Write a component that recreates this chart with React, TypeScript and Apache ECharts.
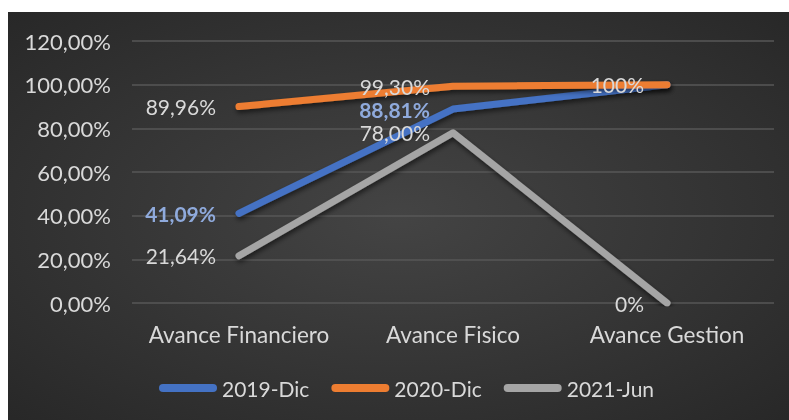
import React, { useEffect, useRef } from "react";
import * as echarts from "echarts";

const categories = ["Avance Financiero", "Avance Fisico", "Avance Gestion"];
const seriesNames = ["2019-Dic", "2020-Dic", "2021-Jun"];
const values2019 = [41.09, 88.81, 100];
const values2020 = [89.96, 99.3, 100];
const values2021 = [21.64, 78.0, 0];
const labelDecimals = [2, 2, 0];
const show2019 = [true, true, false];
const show2020 = [true, true, true];
const show2021 = [true, true, true];
const yMin = 0;
const yMax = 120;
const yInterval = 20;

const colors = ["#4472C4", "#ED7D31", "#A5A5A5"];
const FONT = "Lato, 'Noto Sans', sans-serif";

const fmtPct = (v: number, d: number) => v.toFixed(d).replace(".", ",") + "%";

function makeSeries(name: string, vals: number[], shows: boolean[], color: string, labelColor: string, bold: boolean) {
  return {
    name,
    type: "line",
    data: vals.map((v, i) => ({
      value: v,
      label: { show: shows[i] },
    })),
    symbol: "circle",
    symbolSize: 0,
    showSymbol: true,
    lineStyle: {
      color,
      width: 7,
      cap: "round",
      join: "round",
      shadowColor: "rgba(0,0,0,0.55)",
      shadowBlur: 5,
      shadowOffsetX: 1,
      shadowOffsetY: 3,
    },
    itemStyle: { color },
    label: {
      show: true,
      position: "left",
      distance: 23,
      color: labelColor,
      fontFamily: FONT,
      fontSize: 21,
      lineHeight: 17,
      fontWeight: bold ? "bold" : "normal",
      formatter: (p: any) => fmtPct(p.value, labelDecimals[p.dataIndex]),
    },
  };
}

export default function App() {
  const ref = useRef<HTMLDivElement>(null);
  useEffect(() => {
    if (!ref.current) return;
    const chart = echarts.init(ref.current, undefined, { renderer: "svg" });
    const capsule = "path://M4,0 L54,0 A4,4 0 0 1 54,8 L4,8 A4,4 0 0 1 4,0 Z";
    chart.setOption({
      animation: false,
      backgroundColor: new echarts.graphic.RadialGradient(0.5, 0.5, 0.75, [
        { offset: 0, color: "#444444" },
        { offset: 1, color: "#262626" },
      ]),
      grid: { left: 124, right: 15, top: 29, bottom: 117, containLabel: false },
      legend: {
        left: 146,
        top: 359,
        itemWidth: 58,
        itemHeight: 8,
        itemGap: 22,
        icon: capsule,
        data: seriesNames.map((n) => ({ name: n, icon: capsule })),
        textStyle: { color: "#d9d9d9", fontFamily: FONT, fontSize: 21, lineHeight: 24 },
      },
      xAxis: {
        type: "category",
        data: categories,
        boundaryGap: true,
        axisLine: { show: false },
        axisTick: { show: false },
        axisLabel: { color: "#d9d9d9", fontFamily: FONT, fontSize: 22.5, margin: 20, interval: 0 },
      },
      yAxis: {
        type: "value",
        min: yMin,
        max: yMax,
        interval: yInterval,
        axisLine: { show: false },
        axisTick: { show: false },
        axisLabel: {
          color: "#d9d9d9",
          fontFamily: FONT,
          fontSize: 22,
          margin: 21,
          formatter: (v: number) => fmtPct(v, 2),
        },
        splitLine: { lineStyle: { color: "#575757", width: 1.5 } },
      },
      series: [
        makeSeries(seriesNames[0], values2019, show2019, colors[0], "#8FAADC", true),
        makeSeries(seriesNames[1], values2020, show2020, colors[1], "#d9d9d9", false),
        makeSeries(seriesNames[2], values2021, show2021, colors[2], "#d9d9d9", false),
      ],
    });
    return () => chart.dispose();
  }, []);
  return (
    <div
      ref={ref}
      style={{ position: "fixed", left: 8, top: 12, width: 781, height: 408 }}
    />
  );
}
